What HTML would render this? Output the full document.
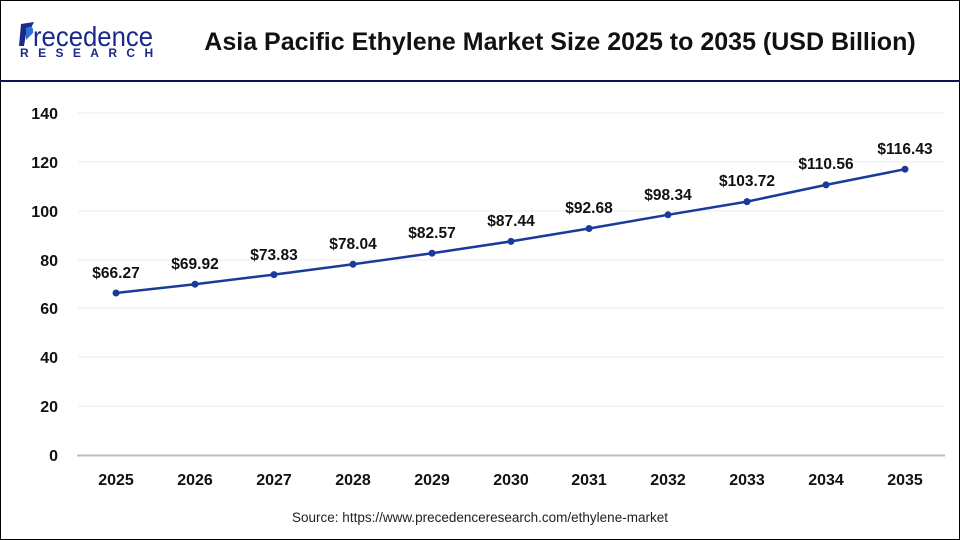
<!DOCTYPE html>
<html><head><style>
body{margin:0;background:#fff}
svg{display:block}
text{font-family:"Liberation Sans",Arial,sans-serif}
</style></head><body>
<svg width="960" height="540" viewBox="0 0 960 540">
<rect x="0.5" y="0.5" width="959" height="539" fill="#fff" stroke="#000" stroke-width="1"/>
<line x1="0" y1="81" x2="960" y2="81" stroke="#0d1450" stroke-width="2"/>
<!-- logo -->
<path d="M21 24 L34 22 L31 28 L27 28 L24 46 L19 46 Z" fill="#1a2a8a"/>
<path d="M26 28 Q34 24 33 33 L26 40 Z" fill="#2f6fd8"/>
<text x="33" y="46" font-size="28" fill="#1a2a8a" textLength="120" lengthAdjust="spacingAndGlyphs">recedence</text>
<text x="20" y="57" font-size="12" font-weight="bold" fill="#1a2a8a" letter-spacing="9.4">RESEARCH</text>
<text x="560" y="50" font-size="25" font-weight="bold" fill="#111" text-anchor="middle">Asia Pacific Ethylene Market Size 2025 to 2035 (USD Billion)</text>
<g stroke="#ebebeb" stroke-width="1">
<line x1="78" y1="113" x2="945" y2="113"/><line x1="78" y1="162" x2="945" y2="162"/>
<line x1="78" y1="211" x2="945" y2="211"/><line x1="78" y1="260" x2="945" y2="260"/>
<line x1="78" y1="308" x2="945" y2="308"/><line x1="78" y1="357" x2="945" y2="357"/>
<line x1="78" y1="406" x2="945" y2="406"/>
</g>
<line x1="77" y1="455.5" x2="945" y2="455.5" stroke="#bdbdbd" stroke-width="2"/>
<g font-size="16" font-weight="bold" fill="#111" text-anchor="end">
<text x="58" y="119">140</text><text x="58" y="168">120</text><text x="58" y="217">100</text>
<text x="58" y="266">80</text><text x="58" y="314">60</text><text x="58" y="363">40</text>
<text x="58" y="412">20</text><text x="58" y="461">0</text>
</g>
<g font-size="16" font-weight="bold" fill="#111" text-anchor="middle">
<text x="116" y="485">2025</text><text x="195" y="485">2026</text><text x="274" y="485">2027</text>
<text x="353" y="485">2028</text><text x="432" y="485">2029</text><text x="511" y="485">2030</text>
<text x="589" y="485">2031</text><text x="668" y="485">2032</text><text x="747" y="485">2033</text>
<text x="826" y="485">2034</text><text x="905" y="485">2035</text>
</g>
<polyline fill="none" stroke="#1a3a9c" stroke-width="2.5" points="116,293 195,284.2 274,274.6 353,264.3 432,253.2 511,241.4 589,228.5 668,214.8 747,201.6 826,184.9 905,169.2"/>
<g fill="#1a3a9c">
<circle cx="116" cy="293" r="3.5"/><circle cx="195" cy="284.2" r="3.5"/><circle cx="274" cy="274.6" r="3.5"/>
<circle cx="353" cy="264.3" r="3.5"/><circle cx="432" cy="253.2" r="3.5"/><circle cx="511" cy="241.4" r="3.5"/>
<circle cx="589" cy="228.5" r="3.5"/><circle cx="668" cy="214.8" r="3.5"/><circle cx="747" cy="201.6" r="3.5"/>
<circle cx="826" cy="184.9" r="3.5"/><circle cx="905" cy="169.2" r="3.5"/>
</g>
<g font-size="15.5" font-weight="bold" fill="#111" text-anchor="middle">
<text x="116" y="278">$66.27</text><text x="195" y="269">$69.92</text><text x="274" y="260">$73.83</text>
<text x="353" y="249">$78.04</text><text x="432" y="238">$82.57</text><text x="511" y="226">$87.44</text>
<text x="589" y="213">$92.68</text><text x="668" y="200">$98.34</text><text x="747" y="186">$103.72</text>
<text x="826" y="169">$110.56</text><text x="905" y="154">$116.43</text>
</g>
<text x="480" y="522" font-size="13.5" fill="#222" text-anchor="middle">Source: https://www.precedenceresearch.com/ethylene-market</text>
</svg>
</body></html>
